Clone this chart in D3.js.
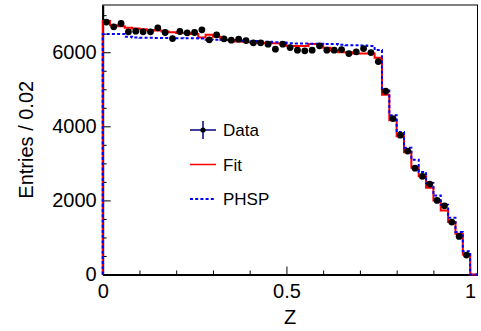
<!DOCTYPE html>
<html>
<head>
<meta charset="utf-8">
<script src="https://d3js.org/d3.v7.min.js"></script>
<style>
  body{margin:0;background:#fff;}
  svg text{font-family:"Liberation Sans",Arial,Helvetica,sans-serif;fill:#000;}
</style>
</head>
<body>
<div id="lineContainer"></div>
<script>

// lower edge of every Z bin (bin width 0.02)
const binLow=[0,0.02,0.04,0.06,0.08,0.10,0.12,0.14,0.16,0.18,
  0.20,0.22,0.24,0.26,0.28,0.30,0.32,0.34,0.36,0.38,
  0.40,0.42,0.44,0.46,0.48,0.50,0.52,0.54,0.56,0.58,
  0.60,0.62,0.64,0.66,0.68,0.70,0.72,0.74,0.76,0.78,
  0.80,0.82,0.84,0.86,0.88,0.90,0.92,0.94,0.96,0.98,1.00];
const binWidth=0.02;

const dataEntries=[6814,6685,6776,6550,6568,6550,6550,6658,6532,6370,
  6559,6523,6532,6604,6334,6469,6361,6325,6352,6316,
  6253,6253,6217,6082,6217,6127,6055,6037,6055,6172,
  6055,6055,6073,5965,6010,6100,5992,5749,4950,4210,
  3760,3333,2870,2650,2440,2000,1855,1414,1027,525,0];

const fitEntries=[6840,6730,6700,6660,6640,6620,6600,6585,6560,6540,
  6520,6510,6490,6400,6470,6420,6340,6330,6290,6280,
  6265,6255,6250,6245,6235,6170,6170,6170,6225,6225,
  6120,6045,6000,6000,5965,5965,5965,5850,4850,4162,
  3730,3300,2880,2649,2343,2000,1730,1414,1100,540,0];

const phspEntries=[6490,6490,6490,6420,6395,6390,6390,6385,6385,6380,
  6380,6375,6375,6370,6340,6335,6330,6325,6320,6310,
  6300,6290,6280,6270,6260,6240,6235,6235,6230,6230,
  6225,6220,6200,6190,6190,6180,6170,6060,5000,4300,
  3847,3420,3100,2766,2468,2135,1880,1532,1144,630,0];

const xTicks=[0,0.5,1];
const xTickLabels=['0','0.5','1'];
const xMinorTicks=[0.1,0.2,0.3,0.4,0.6,0.7,0.8,0.9];
const yTicks=[0,2000,4000,6000];
const yTickLabels=['0','2000','4000','6000'];
const yMinorTicks=[500,1000,1500,2500,3000,3500,4500,5000,5500,6500,7000];

const legendLabels=['Data','Fit','PHSP'];

const margin={top:5,right:3.5,bottom:56.5,left:102.7};
const W=481,H=331;
const width=W-margin.left-margin.right;
const height=H-margin.top-margin.bottom;

let svg,chart,xScale,yScale;

function initSvg(){
  svg=d3.select('#lineContainer')
    .append('svg')
    .attr('width',W)
    .attr('height',H);

  chart=svg.append('g')
    .attr('transform','translate('+margin.left+','+margin.top+')');
}

function initAxis(){
  xScale=d3.scaleLinear()
    .domain([0,binLow[binLow.length-1]+binWidth])
    .range([0,width]);

  yScale=d3.scaleLinear()
    .domain([0,7275])
    .range([height,0]);
}

function drawAxis(){
  // frame
  chart.append('rect')
    .attr('x',0).attr('y',0)
    .attr('width',width).attr('height',height)
    .attr('fill','none')
    .attr('stroke','#000')
    .attr('stroke-width',1);

  // minor ticks first
  chart.append('g')
    .attr('transform','translate(0,'+height+')')
    .call(d3.axisBottom(xScale).tickValues(xMinorTicks).tickSize(-4).tickFormat(''))
    .call(g=>g.select('.domain').remove());

  chart.append('g')
    .attr('transform','translate(0,0)')
    .call(d3.axisLeft(yScale).tickValues(yMinorTicks).tickSize(-4).tickFormat(''))
    .call(g=>g.select('.domain').remove());

  let xAxis=chart.append('g')
    .attr('class','axis x')
    .attr('transform','translate(0,'+height+')')
    .call(d3.axisBottom(xScale).tickValues(xTicks)
      .tickFormat((d,i)=>xTickLabels[i])
      .tickSizeInner(-8).tickSizeOuter(0).tickPadding(9));

  let yAxis=chart.append('g')
    .attr('class','axis y')
    .call(d3.axisLeft(yScale).tickValues(yTicks)
      .tickFormat((d,i)=>yTickLabels[i])
      .tickSizeInner(-8).tickSizeOuter(0).tickPadding(6));

  chart.selectAll('.tick line').attr('stroke','#000').attr('stroke-width',1);
  xAxis.select('.domain').attr('stroke-width',2);
  yAxis.select('.domain').attr('stroke-width',2);
  chart.selectAll('.axis text')
    .attr('font-size',20)
    .style('font-family','"Liberation Sans",Arial,sans-serif');

  svg.append('text')
    .attr('x',margin.left+width/2)
    .attr('y',324)
    .attr('text-anchor','middle')
    .attr('font-size',20)
    .text('Z');

  svg.append('text')
    .attr('transform','translate(33,'+(margin.top+height/2)+') rotate(-90)')
    .attr('text-anchor','middle')
    .attr('font-size',20)
    .text('Entries / 0.02');
}

function stepPoints(values){
  let pts=[[binLow[0],0]];
  binLow.forEach((x,i)=>pts.push([x,values[i]]));
  pts.push([binLow[binLow.length-1]+binWidth,0]);
  return pts;
}

function drawChart(){
  let step=d3.line()
    .curve(d3.curveStepAfter)
    .x(d=>xScale(d[0]))
    .y(d=>yScale(d[1]));

  chart.append('path')
    .attr('class','fit')
    .attr('d',step(stepPoints(fitEntries)))
    .attr('fill','none')
    .attr('stroke','#ff0000')
    .attr('stroke-width',2);

  chart.append('path')
    .attr('class','phsp')
    .attr('d',step(stepPoints(phspEntries)))
    .attr('fill','none')
    .attr('stroke','#0000ff')
    .attr('stroke-width',2)
    .attr('stroke-dasharray','3,2.2');

  let pts=binLow.map((x,i)=>({x:x+binWidth/2,v:dataEntries[i]}))
    .filter(d=>d.v>0);

  chart.selectAll('.err')
    .data(pts)
    .enter()
    .append('line')
    .attr('class','err')
    .attr('x1',d=>xScale(d.x)).attr('x2',d=>xScale(d.x))
    .attr('y1',d=>yScale(d.v+Math.sqrt(d.v)))
    .attr('y2',d=>yScale(d.v-Math.sqrt(d.v)))
    .attr('stroke','#000')
    .attr('stroke-width',1);

  chart.selectAll('.point')
    .data(pts)
    .enter()
    .append('circle')
    .attr('class','point')
    .attr('cx',d=>xScale(d.x))
    .attr('cy',d=>yScale(d.v))
    .attr('r',3.4)
    .attr('fill','#000');
}

function drawLegend(){
  let lg=svg.append('g');
  let rows=[130,164.5,199];

  // data entry: cross with marker
  lg.append('line')
    .attr('x1',190).attr('x2',216).attr('y1',rows[0]).attr('y2',rows[0])
    .attr('stroke','#000080').attr('stroke-width',1.5);
  lg.append('line')
    .attr('x1',203).attr('x2',203).attr('y1',rows[0]-9).attr('y2',rows[0]+9)
    .attr('stroke','#000080').attr('stroke-width',1.5);
  lg.append('circle')
    .attr('cx',203).attr('cy',rows[0]).attr('r',2.6).attr('fill','#000');

  lg.append('line')
    .attr('x1',190).attr('x2',216).attr('y1',rows[1]).attr('y2',rows[1])
    .attr('stroke','#ff0000').attr('stroke-width',1.5);

  lg.append('line')
    .attr('x1',190).attr('x2',216).attr('y1',rows[2]).attr('y2',rows[2])
    .attr('stroke','#0000ff').attr('stroke-width',2)
    .attr('stroke-dasharray','3,2.2');

  lg.selectAll('text')
    .data(legendLabels)
    .enter()
    .append('text')
    .attr('x',223)
    .attr('y',(d,i)=>rows[i]+6)
    .attr('font-size',17)
    .text(d=>d);
}

initSvg();
initAxis();
drawAxis();
drawChart();
drawLegend();

</script>
</body>
</html>
